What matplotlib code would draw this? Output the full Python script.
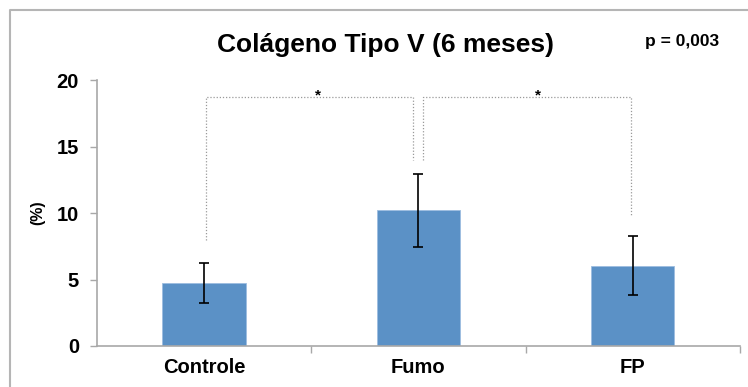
import matplotlib.pyplot as plt
from matplotlib.lines import Line2D

groups = ["Controle", "Fumo", "FP"]
means = [4.75, 10.2, 6.05]
errors = [1.5, 2.75, 2.2]
yticks = [0, 5, 10, 15, 20]

BLUE = "#5b91c6"
GRAY = "#a8a8a8"

plt.rcParams["font.family"] = ["Liberation Sans", "DejaVu Sans"]
plt.rcParams["font.weight"] = "bold"

fig = plt.figure(figsize=(7.48, 3.87), dpi=100)
ax = fig.add_axes([0.1297, 0.106, 0.8593, 0.687])

x = list(range(len(groups)))
ax.bar(x, means, width=0.39, color=BLUE, edgecolor="#9dbde0", linewidth=0.6, zorder=2)
ax.errorbar(x, means, yerr=errors, fmt="none", ecolor="black", elinewidth=1.2,
            capsize=3.3, capthick=1.2, zorder=3)

# significance brackets
dot = dict(color="#9a9a9a", linestyle=(0, (1, 1.5)), linewidth=0.9, clip_on=False, zorder=1)
ax.plot([0.01, 0.01, 0.977, 0.977], [8.0, 18.7, 18.7, 14.0], **dot)
ax.plot([1.023, 1.023, 1.99, 1.99], [14.0, 18.7, 18.7, 9.85], **dot)
ax.text(0.53, 18.85, "*", ha="center", va="center", fontsize=11, fontweight="bold")
ax.text(1.556, 18.85, "*", ha="center", va="center", fontsize=11, fontweight="bold")

ax.set_xlim(-0.5, 2.5)
ax.set_ylim(0, 20)
ax.set_yticks(yticks)
ax.set_yticklabels([str(t) for t in yticks], fontsize=14.5, fontweight="bold")
ax.set_xticks(x)
ax.set_xticklabels(groups, fontsize=14.5, fontweight="bold")
ax.set_xticks([0.5, 1.5, 2.5], minor=True)
ax.tick_params(axis="x", which="major", length=0, pad=9)
ax.tick_params(axis="x", which="minor", length=5, color=GRAY, width=1)
ax.tick_params(axis="y", length=5, color=GRAY, width=1, pad=8)

for side in ["top", "right"]:
    ax.spines[side].set_visible(False)
for side in ["left", "bottom"]:
    ax.spines[side].set_color(GRAY)
    ax.spines[side].set_linewidth(1.2)

ax.set_ylabel("(%)", fontsize=11.5, fontweight="bold", labelpad=8)

fig.text(0.515, 0.885, "Colágeno Tipo V (6 meses)", ha="center", va="center",
         fontsize=19, fontweight="bold")
fig.text(0.912, 0.893, "p = 0,003", ha="center", va="center",
         fontsize=12.5, fontweight="bold")

# outer chart frame
fig.add_artist(Line2D([0.0134, 0.0134, 1.0], [0.0, 0.974, 0.974],
                      transform=fig.transFigure, color="#b5b5b5", linewidth=1.5))

fig.savefig("out.png", dpi=100)
